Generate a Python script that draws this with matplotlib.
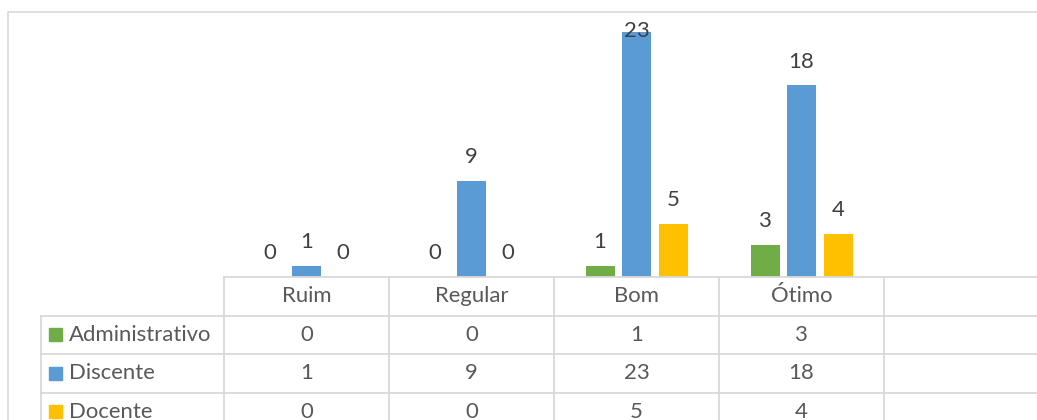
import numpy as np
import matplotlib
matplotlib.use("Agg")
import matplotlib.pyplot as plt

# data
categories = ["Ruim", "Regular", "Bom", "Ótimo"]
series_names = ["Administrativo", "Discente", "Docente"]
administrativo = [0, 0, 1, 3]
discente = [1, 9, 23, 18]
docente = [0, 0, 5, 4]
colors = ["#70AD47", "#5B9BD5", "#FFC000"]

values = [administrativo, discente, docente]

W, H = 1037, 420
DPI = 100
grid_c = "#D9D9D9"
txt_c = "#595959"
lab_c = "#404040"
fs = 15.9
plt.rcParams['font.family'] = ['Lato', 'DejaVu Sans']

fig = plt.figure(figsize=(W / DPI, H / DPI), dpi=DPI)

# pixel geometry (image coordinates, y down)
x_plot = 224
col_w = 165
n_cols = len(categories) + 1  # extra empty column like the original
x_right = x_plot + n_cols * col_w
x_leg = 41
y_base = 277
y_top = 11
row_h = 38.5
ymax = 25


def fx(px):
    return px / W


def fy(py):
    return 1 - py / H


# chart border
border = fig.add_axes([0, 0, 1, 1])
border.set_xlim(0, W)
border.set_ylim(H, 0)
border.axis("off")
border.plot([8, 8, W + 5], [H + 5, 12, 12], color=grid_c, lw=1.2)

# bars
ax = fig.add_axes([fx(x_plot), fy(y_base), fx(x_right - x_plot), (y_base - y_top) / H])
ax.set_xlim(-0.5, n_cols - 0.5)
ax.set_ylim(0, ymax)
ax.axis("off")
x = np.arange(len(categories))
bw = 29 / col_w
off = 36.5 / col_w
for i, (vals, c) in enumerate(zip(values, colors)):
    xs = x + (i - 1) * off
    ax.bar(xs, vals, width=bw, color=c)
    for xi, v in zip(xs, vals):
        ly = min(v + 2.25, ymax - 1.9)
        ax.text(xi, ly, str(v), ha="center", va="center", fontsize=fs, color=lab_c)

# data table
tb = fig.add_axes([fx(x_leg), fy(y_base + 4 * row_h), fx(x_right - x_leg), 4 * row_h / H])
tb.set_xlim(-0.5 - (x_plot - x_leg) / col_w, n_cols - 0.5)
tb.set_ylim(4, 0)
tb.axis("off")
x0 = -0.5 - (x_plot - x_leg) / col_w
lw = 1.3
tb.plot([-0.5, n_cols - 0.5], [0, 0], color=grid_c, lw=lw, clip_on=False)
for r in range(1, 4):
    tb.plot([x0, n_cols - 0.5], [r, r], color=grid_c, lw=lw, clip_on=False)
tb.plot([x0, x0], [1, 4], color=grid_c, lw=lw, clip_on=False)
for k in range(n_cols + 1):
    tb.plot([k - 0.5, k - 0.5], [0, 4], color=grid_c, lw=lw, clip_on=False)

for j, cat in enumerate(categories):
    tb.text(j, 0.5, cat, ha="center", va="center", fontsize=fs, color=txt_c)
    for i, vals in enumerate(values):
        tb.text(j, i + 1.5, str(vals[j]), ha="center", va="center", fontsize=fs, color=txt_c)

for i, (name, c) in enumerate(zip(series_names, colors)):
    sq = 13 / col_w
    tb.add_patch(plt.Rectangle((x0 + 8 / col_w, i + 1.5 - 0.17), sq, 0.34, color=c))
    tb.text(x0 + 28 / col_w, i + 1.5, name, ha="left", va="center", fontsize=fs, color=txt_c)

fig.savefig("out.png", dpi=DPI)
